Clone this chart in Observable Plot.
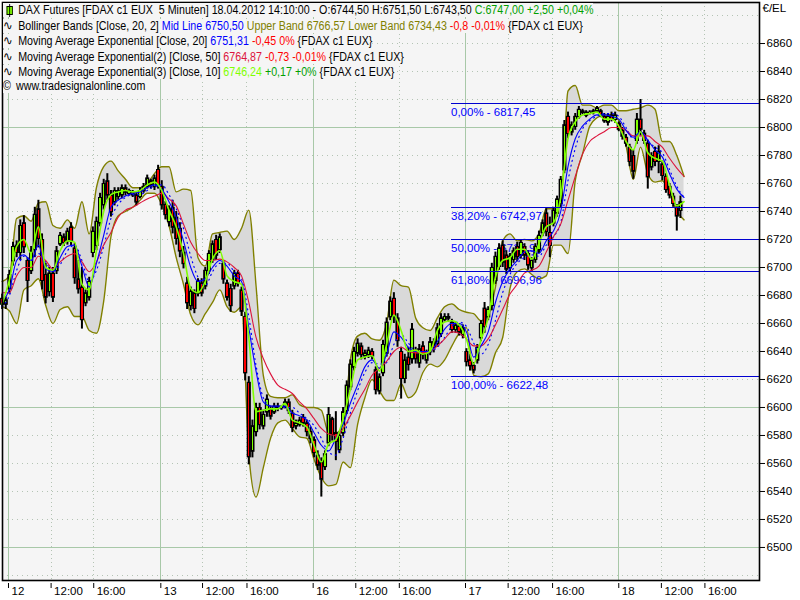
<!DOCTYPE html>
<html><head><meta charset="utf-8">
<script src="https://cdn.jsdelivr.net/npm/d3@7"></script>
<script src="https://cdn.jsdelivr.net/npm/@observablehq/plot@0.6"></script>
<style>
html,body{margin:0;padding:0;background:#fff;}
#wrap{position:relative;width:800px;height:600px;overflow:hidden;}
#legend{position:absolute;left:3px;top:3px;font:12px "Liberation Sans",Arial,sans-serif;color:#000;line-height:15.2px;white-space:pre;transform:scaleX(.89);transform-origin:0 0;}
#legend div{height:15.2px;}
#legend span.bg{background:#f5f5f5;}
.ic{display:inline-block;width:17px;text-align:left;font-family:"DejaVu Sans";font-size:13px;}
.cr{display:inline-block;width:14.6px;text-align:left;font-size:12px;}
.cd{display:inline-block;width:5px;height:7px;background:#80ff00;border:1px solid #000;margin:0 6px 0 4px;vertical-align:-1px;position:relative;}
.cd:before{content:"";position:absolute;left:2px;top:-3px;width:1px;height:13px;background:#000;}
</style></head><body>
<div id="wrap"><div id="chart"></div><div id="legend"></div></div>
<script>
// ---- candles, one every 4 five-minute bars ----
const high=[6681,6679,6698,6718,6719,6734,6737,6707,6715,6743,6748,6724,6703,6700,6700,6715,6725,6724,6728,6732,6717,6705,6700,6684,6693,6729,6736,6753,6763,6767,6755,6757,6757,6759,6759,6756,6755,6754,6757,6760,6766,6763,6766,6773,6762,6747,6744,6748,6740,6732,6715,6693,6686,6684,6692,6692,6700,6712,6719,6723,6724,6705,6691,6688,6698,6698,6686,6668,6622,6591,6603,6603,6598,6609,6601,6603,6603,6601,6606,6606,6598,6591,6593,6595,6591,6586,6579,6569,6564,6569,6600,6593,6597,6583,6600,6619,6634,6643,6649,6646,6641,6643,6642,6629,6624,6648,6664,6679,6682,6667,6643,6638,6643,6660,6643,6645,6647,6641,6650,6649,6660,6667,6667,6667,6663,6661,6660,6659,6642,6638,6632,6645,6662,6675,6672,6703,6711,6717,6719,6712,6710,6714,6718,6720,6717,6712,6707,6717,6726,6734,6742,6736,6743,6751,6765,6805,6811,6804,6810,6815,6813,6812,6812,6813,6815,6813,6810,6810,6811,6811,6804,6800,6795,6788,6784,6810,6820,6798,6791,6782,6786,6787,6776,6767,6760,6753,6745,6751];
const low=[6670,6670,6681,6701,6707,6705,6710,6675,6695,6707,6714,6684,6674,6679,6675,6695,6715,6715,6716,6715,6688,6681,6656,6672,6676,6707,6712,6729,6741,6748,6736,6744,6748,6749,6751,6751,6750,6744,6749,6753,6756,6756,6755,6756,6741,6734,6729,6724,6716,6707,6699,6670,6669,6667,6679,6679,6684,6695,6703,6705,6710,6688,6676,6668,6684,6686,6665,6619,6559,6564,6579,6584,6584,6593,6591,6595,6597,6598,6599,6595,6582,6584,6586,6586,6579,6574,6564,6555,6536,6555,6572,6576,6562,6567,6579,6595,6612,6626,6636,6634,6634,6635,6634,6609,6609,6622,6636,6662,6660,6643,6606,6617,6626,6631,6631,6628,6634,6631,6637,6639,6643,6650,6661,6661,6653,6653,6651,6649,6629,6626,6624,6631,6647,6653,6662,6669,6688,6698,6700,6695,6697,6703,6704,6706,6705,6698,6697,6703,6710,6722,6722,6707,6729,6736,6743,6767,6792,6794,6798,6806,6809,6807,6809,6809,6810,6807,6803,6801,6804,6803,6797,6791,6786,6772,6763,6788,6794,6788,6756,6769,6772,6767,6762,6753,6749,6743,6726,6735];
const open=[6678,6673,6684,6704,6716,6710,6732,6705,6697,6712,6742,6720,6695,6682,6696,6697,6716,6722,6718,6729,6714,6692,6686,6674,6678,6710,6715,6731,6744,6762,6752,6746,6750,6751,6757,6752,6754,6752,6750,6754,6757,6762,6757,6770,6758,6745,6732,6743,6736,6728,6711,6689,6672,6682,6681,6689,6686,6697,6705,6720,6712,6703,6689,6685,6686,6696,6684,6665,6618,6568,6582,6600,6586,6596,6599,6596,6599,6599,6600,6604,6596,6586,6587,6593,6589,6583,6577,6566,6561,6557,6574,6592,6582,6569,6581,6597,6614,6628,6638,6644,6636,6637,6640,6627,6611,6624,6638,6664,6678,6664,6640,6620,6636,6634,6640,6631,6644,6633,6639,6647,6645,6652,6662,6665,6661,6655,6658,6651,6640,6634,6630,6633,6649,6671,6664,6672,6690,6700,6716,6709,6699,6705,6715,6708,6715,6710,6699,6705,6712,6724,6739,6725,6731,6738,6745,6769,6808,6796,6800,6807,6812,6808,6810,6810,6811,6812,6808,6803,6809,6805,6803,6798,6793,6786,6780,6790,6806,6796,6789,6771,6783,6775,6774,6765,6758,6751,6743,6740];
const close=[6673,6677,6695,6715,6710,6730,6714,6690,6712,6738,6720,6690,6678,6696,6678,6712,6723,6717,6726,6718,6692,6684,6662,6682,6690,6726,6733,6750,6760,6751,6739,6755,6755,6757,6753,6755,6751,6746,6755,6758,6764,6758,6764,6758,6744,6737,6742,6728,6720,6711,6702,6674,6683,6670,6690,6681,6698,6710,6717,6708,6722,6691,6678,6672,6696,6688,6668,6624,6564,6587,6600,6587,6595,6606,6593,6601,6601,6600,6604,6597,6585,6589,6591,6588,6582,6577,6567,6558,6548,6567,6595,6580,6575,6580,6597,6616,6631,6640,6646,6637,6639,6641,6636,6612,6622,6645,6661,6676,6664,6647,6620,6634,6630,6656,6634,6642,6637,6639,6647,6642,6657,6664,6665,6663,6655,6659,6653,6657,6632,6629,6626,6643,6660,6657,6670,6700,6708,6714,6703,6698,6708,6712,6707,6718,6708,6701,6705,6715,6723,6732,6725,6715,6741,6749,6763,6802,6795,6802,6808,6813,6810,6811,6811,6812,6814,6808,6804,6808,6805,6809,6798,6793,6788,6775,6768,6806,6798,6790,6764,6780,6775,6783,6765,6755,6751,6745,6736,6747];
// ---- indicators, one every 8 five-minute bars ----
const upperBand=[6690,6694,6735,6737,6733,6746,6747,6730,6728,6734,6728,6747,6724,6757,6772,6776,6769,6763,6757,6757,6760,6767,6772,6772,6754,6756,6755,6707,6701,6724,6725,6726,6720,6728,6741,6687,6623,6608,6607,6607,6609,6602,6600,6600,6598,6582,6582,6586,6634,6651,6653,6649,6648,6660,6691,6687,6686,6664,6657,6655,6664,6672,6674,6670,6668,6667,6662,6666,6686,6719,6724,6719,6720,6719,6724,6742,6742,6744,6826,6830,6816,6816,6814,6816,6816,6812,6812,6813,6814,6816,6813,6790,6790,6780,6765];
const lowerBand=[6672,6669,6660,6684,6687,6692,6673,6660,6670,6672,6665,6665,6655,6653,6676,6722,6737,6740,6743,6748,6753,6753,6745,6730,6707,6688,6666,6659,6667,6675,6684,6672,6668,6672,6567,6536,6557,6578,6589,6591,6585,6579,6578,6563,6550,6544,6545,6561,6557,6588,6607,6620,6612,6605,6605,6617,6607,6611,6625,6631,6629,6634,6644,6653,6657,6623,6622,6624,6639,6650,6685,6697,6699,6695,6692,6694,6716,6716,6710,6762,6781,6801,6807,6809,6809,6805,6787,6763,6786,6767,6761,6762,6753,6740,6734];
const midLine=[6672,6680,6698,6708,6705,6710,6704,6697,6702,6712,6716,6705,6690,6698,6715,6735,6745,6750,6752,6752,6755,6758,6759,6752,6742,6728,6708,6693,6687,6697,6703,6703,6697,6692,6665,6630,6607,6601,6600,6600,6600,6596,6592,6587,6578,6568,6566,6578,6596,6612,6625,6632,6631,6632,6645,6652,6646,6640,6639,6640,6643,6650,6658,6661,6658,6646,6638,6645,6662,6682,6695,6703,6707,6709,6708,6716,6722,6732,6762,6785,6799,6805,6808,6810,6810,6808,6800,6792,6796,6790,6786,6782,6770,6758,6750];
const ema20=[6676,6684,6705,6709,6705,6716,6699,6697,6707,6715,6716,6701,6686,6703,6723,6743,6748,6751,6753,6754,6757,6759,6756,6747,6736,6719,6700,6690,6692,6700,6705,6701,6694,6690,6657,6626,6604,6601,6601,6601,6596,6594,6591,6582,6573,6569,6578,6588,6603,6616,6629,6634,6628,6638,6654,6650,6643,6640,6640,6640,6647,6656,6660,6660,6654,6636,6644,6654,6675,6690,6699,6705,6711,6712,6710,6719,6726,6740,6772,6792,6801,6806,6809,6809,6808,6806,6798,6793,6797,6791,6784,6779,6767,6756,6750];
const ema50=[6682,6682,6694,6700,6700,6708,6705,6699,6704,6708,6710,6704,6697,6704,6716,6725,6736,6741,6743,6746,6749,6751,6753,6749,6744,6731,6718,6710,6705,6705,6706,6704,6700,6694,6675,6650,6635,6624,6616,6613,6610,6604,6599,6592,6585,6581,6580,6585,6594,6604,6613,6623,6628,6633,6640,6643,6640,6639,6639,6640,6644,6649,6654,6653,6649,6644,6644,6649,6659,6670,6681,6688,6696,6698,6701,6711,6722,6731,6748,6765,6781,6790,6794,6797,6800,6800,6798,6794,6794,6794,6790,6786,6778,6771,6765];
const ema10=[6674,6691,6715,6720,6710,6729,6700,6698,6712,6719,6718,6688,6684,6712,6740,6752,6754,6755,6754,6755,6759,6761,6755,6741,6729,6710,6685,6682,6690,6706,6712,6694,6690,6688,6650,6597,6598,6599,6599,6603,6591,6589,6586,6573,6561,6574,6577,6592,6613,6634,6636,6637,6626,6645,6666,6655,6640,6641,6638,6640,6655,6661,6662,6659,6649,6631,6648,6664,6693,6705,6707,6713,6713,6706,6717,6729,6732,6750,6792,6804,6809,6810,6811,6806,6806,6801,6790,6784,6797,6782,6778,6776,6759,6744,6747];
// ---- retracement levels ----
const fibPrice=[6817.45,6742.97,6719.96,6696.96,6622.48];
const fibLabel=["0,00% - 6817,45","38,20% - 6742,97","50,00% - 6719,96","61,80% - 6696,96","100,00% - 6622,48"];
// ---- time axis: bar number of each tick, and its label ----
const tickBars=[0,47,94,168,214,263,336,383,431,504,551,600,673,720,768];
const tickLabels=["12","12:00","16:00","13","12:00","16:00","16","12:00","16:00","17","12:00","16:00","18","12:00","16:00"];
const dayBars=[0,168,336,504,673];
const hourBars=[47,94,214,263,383,431,551,600,720,768];
const priceTicks=[6500,6520,6540,6560,6580,6600,6620,6640,6660,6680,6700,6720,6740,6760,6780,6800,6820,6840,6860];
const minorGrid=[6480,6500,6520,6540,6560,6580,6600,6620,6640,6660,6680,6700,6720,6740,6760,6780,6800,6820,6840,6860,6880];
const majorGrid=[6500,6600,6700,6800];

const candleBar=high.map((_,i)=>4*i-7);
const indBar=upperBand.map((_,i)=>8*i-7);
const ci=candleBar.map((_,i)=>i), ki=indBar.map((_,i)=>i);
const font='"Liberation Sans",Arial,sans-serif';
const GRID="#a8c8a8", DOT="#b4c4b4", CURVE="monotone-x";

const chart=Plot.plot({
  width:800,height:600,marginLeft:2,marginRight:41,marginTop:2,marginBottom:20,
  style:{background:"#fff",fontFamily:font,fontSize:"11px",color:"#000"},
  x:{domain:[-6.6,828.2],range:[2,759]},
  y:{domain:[6476.4,6889.3]},
  marks:[
    Plot.frame({fill:"#f5f5f5",stroke:"none"}),
    Plot.ruleY(minorGrid,{stroke:DOT,strokeDasharray:"1,4",shapeRendering:"crispEdges"}),
    Plot.ruleX(hourBars,{stroke:DOT,strokeDasharray:"1,3",shapeRendering:"crispEdges"}),
    Plot.ruleY(majorGrid,{stroke:GRID,shapeRendering:"crispEdges"}),
    Plot.ruleX(dayBars,{stroke:GRID,shapeRendering:"crispEdges"}),
    Plot.areaY(ki,{x:i=>indBar[i],y1:i=>lowerBand[i],y2:i=>upperBand[i],fill:"#d9d9d9",curve:CURVE}),
    Plot.line(ki,{x:i=>indBar[i],y:i=>upperBand[i],stroke:"#808000",strokeWidth:1.4,curve:CURVE}),
    Plot.line(ki,{x:i=>indBar[i],y:i=>lowerBand[i],stroke:"#808000",strokeWidth:1.4,curve:CURVE}),
    Plot.text(fibPrice,{x:()=>488,y:d=>d,text:(d,i)=>fibLabel[i],dy:9,textAnchor:"start",fill:"#0000ff",fontSize:11.5}),
    Plot.ruleX(ci,{x:i=>candleBar[i],y1:i=>low[i],y2:i=>high[i],stroke:"#000",strokeWidth:2}),
    Plot.ruleX(ci,{x:i=>candleBar[i],y1:i=>Math.min(open[i],close[i]),y2:i=>Math.max(open[i],close[i]),stroke:"#000",strokeWidth:4.2}),
    Plot.ruleX(ci,{x:i=>candleBar[i],y1:i=>Math.min(open[i],close[i])+1,y2:i=>Math.max(open[i],close[i])-1,stroke:i=>close[i]>=open[i]?"#80ff00":"#ff0000",strokeWidth:1.4,shapeRendering:"crispEdges"}),
    Plot.line(ki,{x:i=>indBar[i],y:i=>midLine[i],stroke:"#0000ff",strokeDasharray:"1,4",strokeWidth:1.2,curve:CURVE}),
    Plot.line(ki,{x:i=>indBar[i],y:i=>ema50[i],stroke:"#dc143c",strokeWidth:1.1,curve:CURVE}),
    Plot.line(ki,{x:i=>indBar[i],y:i=>ema20[i],stroke:"#0000ff",strokeWidth:1.1,curve:CURVE}),
    Plot.line(ki,{x:i=>indBar[i],y:i=>ema10[i],stroke:"#80ff00",strokeWidth:1.6,curve:CURVE}),
    Plot.ruleY(fibPrice,{x1:488,x2:828.2,stroke:"#0000d0",strokeWidth:1,shapeRendering:"crispEdges"}),
    Plot.frame({stroke:"#000",strokeWidth:1.6}),
    Plot.axisY({anchor:"right",ticks:priceTicks,tickFormat:d=>String(d),tickSize:5,tickPadding:2,label:null,fontSize:11.5}),
    Plot.axisX({anchor:"bottom",ticks:tickBars,tickFormat:()=>"",tickSize:5,dy:3,label:null}),
    Plot.axisX({anchor:"bottom",ticks:tickBars,tickFormat:(d,i)=>tickLabels[i],tickSize:0,tickPadding:6,textAnchor:"start",dx:3,label:null,fontSize:11.5}),
    Plot.text(["€/EL"],{frameAnchor:"top-right",dx:3,dy:1,lineAnchor:"top",textAnchor:"start",fontSize:11.5,fill:"#000"})
  ]
});
document.getElementById("chart").appendChild(chart);
const rows=[
 '<span class="cd"></span>DAX Futures [FDAX c1 EUX  5 Minuten] 18.04.2012 14:10:00 - O:6744,50 H:6751,50 L:6743,50 <span style="color:#00a000">C:6747,00 +2,50 +0,04%</span>',
 '<span class="ic">∿</span>Bollinger Bands [Close, 20, 2] <span style="color:#0000ff">Mid Line 6750,50</span> <span style="color:#808000">Upper Band 6766,57 Lower Band 6734,43</span> <span style="color:#ff0000">-0,8 -0,01%</span> {FDAX c1 EUX}',
 '<span class="ic">∿</span>Moving Average Exponential [Close, 20] <span style="color:#0000ff">6751,31</span> <span style="color:#ff0000">-0,45 0%</span> {FDAX c1 EUX}',
 '<span class="ic">∿</span>Moving Average Exponential(2) [Close, 50] <span style="color:#dc143c">6764,87</span> <span style="color:#ff0000">-0,73 -0,01%</span> {FDAX c1 EUX}',
 '<span class="ic">∿</span>Moving Average Exponential(3) [Close, 10] <span style="color:#80ff00">6746,24</span> <span style="color:#00a000">+0,17 +0%</span> {FDAX c1 EUX}',
 '<span class="cr">©</span>www.tradesignalonline.com'
];
document.getElementById("legend").innerHTML=rows.map(r=>'<div><span class="bg">'+r+'</span></div>').join("");
</script>
</body></html>
